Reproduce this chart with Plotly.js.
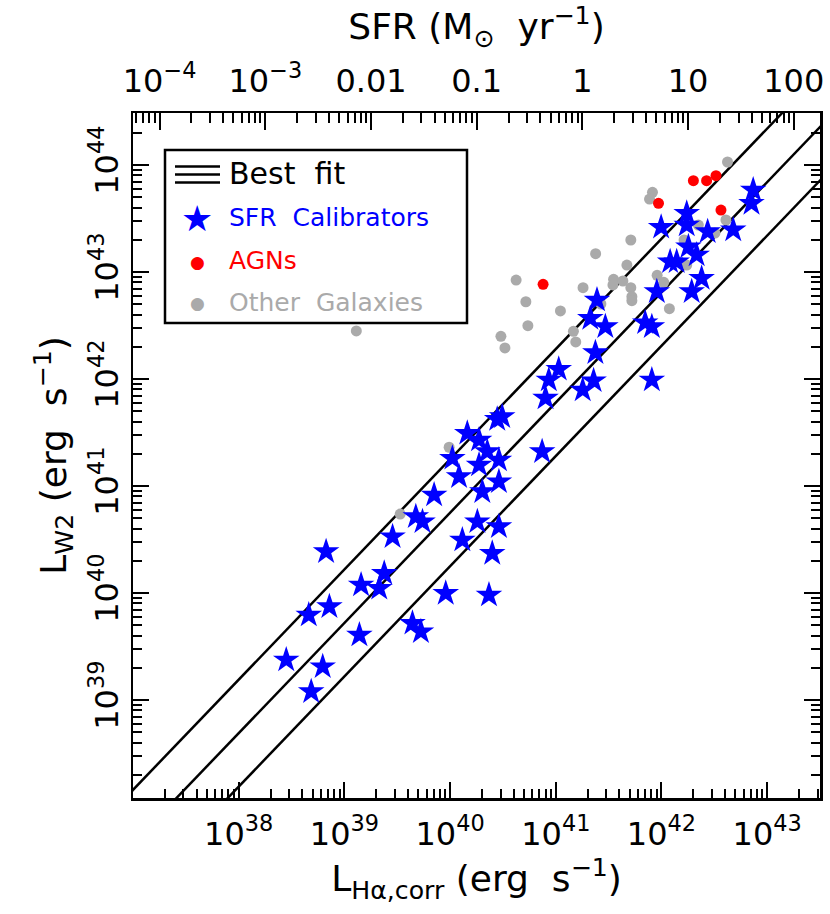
<!DOCTYPE html>
<html><head><meta charset="utf-8">
<script src="https://cdn.plot.ly/plotly-3.0.1.min.js"></script>
<style>html,body{margin:0;padding:0;background:#fff}</style>
</head><body>
<div id="chart" style="width:830px;height:914px"></div>
<script>
// ---- data (log10 of luminosity, erg s^-1) ----
const calibLogHa = [42.868,42.852,41.997,42.239,42.239,42.437,42.679,42.255,42.333,42.082,42.144,42.380,41.956,42.286,41.390,41.327,41.469,41.846,41.909,41.375,41.028,40.934,41.358,41.909,40.903,41.255,40.493,40.446,40.163,40.274,40.022,40.352,40.462,40.274,40.085,40.462,40.305,39.849,39.676,39.739,39.456,40.258,40.116,40.462,40.399,40.871,38.827,39.377,39.158,39.330,39.959,40.368,38.858,38.663,39.644,39.724,39.142,38.450,38.795,38.686];
const calibLogW2 = [43.766,43.642,43.418,43.549,43.439,43.377,43.393,43.236,43.159,43.096,43.096,42.941,42.816,42.816,42.738,42.567,42.489,42.526,42.489,42.246,42.091,41.991,41.984,41.991,41.822,41.897,41.648,41.623,41.493,41.430,41.259,41.321,41.243,41.196,41.087,41.040,40.947,40.916,40.713,40.666,40.526,40.666,40.495,40.620,40.371,41.321,40.386,40.184,40.075,40.044,39.997,39.981,39.872,39.794,39.717,39.638,39.607,39.374,39.311,39.078];
const agnLogHa = [42.302,42.427,42.516,41.972,42.563,40.880];
const agnLogW2 = [43.853,43.853,43.900,43.642,43.579,42.885];
const otherLogHa = [42.625,41.915,41.887,41.710,41.377,41.673,40.625,41.547,41.635,41.541,41.258,41.710,41.720,41.720,40.717,41.044,40.736,41.167,40.481,41.189,40.519,42.075,41.959,42.022,42.610,41.427,39.113,39.991,39.528,42.214,42.349,42.239,42.506];
const otherLogW2 = [44.028,43.745,43.682,43.299,43.171,43.065,42.925,42.932,42.916,42.879,42.853,42.853,42.769,42.732,42.722,42.636,42.498,42.446,42.399,42.346,42.290,42.657,42.969,42.904,43.486,42.701,42.449,41.362,40.738,43.299,43.439,43.065,43.364];

// best fit: log L_W2 = fitIntercept40 + fitSlope*(log L_Ha - 40) + offset
const fitSlope = 1.03;
const fitIntercept40 = 40.75;
const fitOffsets = [0.5, 0, -0.5];
const fitLogHaSpan = [36.5, 44];

// SFR = sfrPerLHa * L_Ha
const sfrPerLHa = 5.6e-42;

const xTickExp = [38,39,40,41,42,43];
const yTickExp = [39,40,41,42,43,44];
const sfrTickVals = [1e-4,1e-3,0.01,0.1,1,10,100];
const sfrTickText = ['10<sup>\u22124</sup>','10<sup>\u22123</sup>','0.01','0.1','1','10','100'];

// ---- build ----
const pw = v => Math.pow(10, v);
const X_RANGE = [37, 43.5];
const Y_RANGE = [38.084, 44.486];
const sfrLog = Math.log10(sfrPerLHa);
const X2_RANGE = [X_RANGE[0] + sfrLog, X_RANGE[1] + sfrLog];

function minorVals(lo, hi) {
  const out = [];
  for (let n = Math.floor(lo) - 1; n <= Math.ceil(hi); n++)
    for (let d = 2; d <= 9; d++) {
      const v = d * Math.pow(10, n);
      if (Math.log10(v) > lo && Math.log10(v) < hi) out.push(v);
    }
  return out;
}

const FONT = 'DejaVu Sans, Liberation Sans, sans-serif';
const traces = [];
fitOffsets.forEach(off => {
  traces.push({
    x: fitLogHaSpan.map(pw),
    y: fitLogHaSpan.map(l => pw(fitIntercept40 + off + fitSlope * (l - 40))),
    mode: 'lines', line: {color: 'black', width: 2.5},
    hoverinfo: 'skip', showlegend: false
  });
});
traces.push({
  x: otherLogHa.map(pw), y: otherLogW2.map(pw), mode: 'markers',
  marker: {color: '#aaaaaa', size: 11, line: {width: 0}}, name: 'Other Galaxies'
});
traces.push({
  x: agnLogHa.map(pw), y: agnLogW2.map(pw), mode: 'markers',
  marker: {color: '#ff0000', size: 11, line: {width: 0}}, name: 'AGNs'
});
traces.push({
  x: calibLogHa.map(pw), y: calibLogW2.map(pw), mode: 'markers',
  marker: {color: '#0000ff', size: 20, symbol: 'star', line: {width: 0}}, name: 'SFR Calibrators'
});
// SFR axis carrier (invisible)
traces.push({
  x: calibLogHa.map(l => pw(l) * sfrPerLHa), y: calibLogW2.map(pw), xaxis: 'x2', mode: 'markers',
  marker: {opacity: 0, size: 1}, hoverinfo: 'skip', showlegend: false
});

const axisCommon = {
  type: 'log', showgrid: false, zeroline: false,
  ticks: 'inside', tickwidth: 2, tickcolor: 'black',
  tickfont: {family: FONT, size: 32, color: 'black'},
  tickmode: 'array'
};
const TITLE_FONT = {family: FONT, size: 36, color: 'black'};

const px = p => (p - 133) / 687;
const py = p => (798 - p) / 685;

const layout = {
  width: 830, height: 914,
  margin: {l: 133, r: 10, t: 113, b: 116},
  paper_bgcolor: 'white', plot_bgcolor: 'white',
  showlegend: false,
  xaxis: Object.assign({}, axisCommon, {
    range: X_RANGE,
    tickvals: xTickExp.map(pw),
    ticktext: xTickExp.map(e => '10<sup>' + e + '</sup>'),
    ticklen: 16, ticklabelstandoff: 6,
    showline: true, linecolor: 'black', linewidth: 2.5, mirror: true,
    minor: {tickmode: 'array', tickvals: minorVals(X_RANGE[0], X_RANGE[1]), ticks: 'inside', ticklen: 9, tickwidth: 2, tickcolor: 'black', showgrid: false},
    title: {text: 'L<sub>H\u03b1,corr</sub> (erg  s<sup>\u22121</sup>)', font: TITLE_FONT, standoff: 6},
    automargin: false
  }),
  xaxis2: Object.assign({}, axisCommon, {
    overlaying: 'x', side: 'top', anchor: 'y',
    range: X2_RANGE,
    tickvals: sfrTickVals, ticktext: sfrTickText,
    ticklen: 17, showline: false, ticklabelstandoff: 14,
    minor: {tickmode: 'array', tickvals: minorVals(X2_RANGE[0], X2_RANGE[1]), ticks: 'inside', ticklen: 10, tickwidth: 2, tickcolor: 'black', showgrid: false},
    title: {text: 'SFR (M<sub>\u2299</sub>  yr<sup>\u22121</sup>)', font: TITLE_FONT, standoff: 6},
    automargin: false
  }),
  yaxis: Object.assign({}, axisCommon, {
    range: Y_RANGE,
    tickvals: yTickExp.map(pw),
    ticktext: yTickExp.map(e => '10<sup>' + e + '</sup>'),
    tickangle: -90,
    ticklen: 16,
    showline: true, linecolor: 'black', linewidth: 2.5, mirror: 'ticks',
    minor: {tickmode: 'array', tickvals: minorVals(Y_RANGE[0], Y_RANGE[1]), ticks: 'inside', ticklen: 9, tickwidth: 2, tickcolor: 'black', showgrid: false},
    title: {text: 'L<sub>W2</sub> (erg  s<sup>\u22121</sup>)', font: TITLE_FONT, standoff: 6},
    automargin: false
  }),
  shapes: [
    {type: 'rect', xref: 'paper', yref: 'paper', x0: px(165), x1: px(467), y0: py(323), y1: py(150), line: {color: 'black', width: 2.5}, fillcolor: 'white', layer: 'above'},
    {type: 'line', xref: 'paper', yref: 'paper', x0: px(175), x1: px(220), y0: py(166.5), y1: py(166.5), line: {color: 'black', width: 2.5}},
    {type: 'line', xref: 'paper', yref: 'paper', x0: px(175), x1: px(220), y0: py(174.5), y1: py(174.5), line: {color: 'black', width: 2.5}},
    {type: 'line', xref: 'paper', yref: 'paper', x0: px(175), x1: px(220), y0: py(182.5), y1: py(182.5), line: {color: 'black', width: 2.5}}
  ],
  annotations: [
    {xref: 'paper', yref: 'paper', x: px(227), y: py(173), xanchor: 'left', yanchor: 'middle', showarrow: false, text: 'Best  fit', font: {family: FONT, size: 30, color: 'black'}},
    {xref: 'paper', yref: 'paper', x: px(197), y: py(219), xanchor: 'center', yanchor: 'middle', showarrow: false, text: '\u2605', font: {family: 'DejaVu Sans', size: 36, color: '#0000ff'}},
    {xref: 'paper', yref: 'paper', x: px(227), y: py(217), xanchor: 'left', yanchor: 'middle', showarrow: false, text: 'SFR  Calibrators', font: {family: FONT, size: 25, color: '#0000ff'}},
    {xref: 'paper', yref: 'paper', x: px(197), y: py(261.5), xanchor: 'center', yanchor: 'middle', showarrow: false, text: '\u25cf', font: {family: 'DejaVu Sans', size: 17, color: '#ff0000'}},
    {xref: 'paper', yref: 'paper', x: px(227), y: py(260), xanchor: 'left', yanchor: 'middle', showarrow: false, text: 'AGNs', font: {family: FONT, size: 25, color: '#ff0000'}},
    {xref: 'paper', yref: 'paper', x: px(197), y: py(303), xanchor: 'center', yanchor: 'middle', showarrow: false, text: '\u25cf', font: {family: 'DejaVu Sans', size: 17, color: '#aaaaaa'}},
    {xref: 'paper', yref: 'paper', x: px(227), y: py(302), xanchor: 'left', yanchor: 'middle', showarrow: false, text: 'Other  Galaxies', font: {family: FONT, size: 25, color: '#aaaaaa'}}
  ]
};

Plotly.newPlot('chart', traces, layout, {staticPlot: true, displayModeBar: false});
</script>
</body></html>
